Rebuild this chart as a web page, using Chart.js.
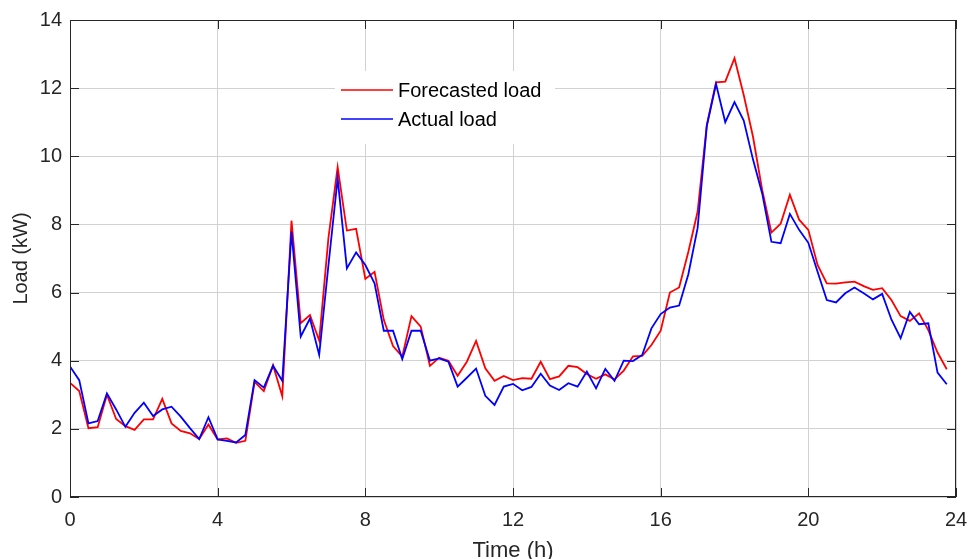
<!DOCTYPE html>
<html>
<head>
<meta charset="utf-8">
<script src="https://cdn.jsdelivr.net/npm/chart.js@4"></script>
<style>
  html, body { margin: 0; padding: 0; background: #fff; }
  #wrap { width: 970px; height: 559px; }
</style>
</head>
<body>
<div id="wrap"><canvas id="loadChart" width="970" height="559"></canvas></div>
<script>
// Pas de temps : 15 minutes, de 0 h a 23,75 h
const heures = Array.from({ length: 96 }, (_, i) => i * 0.25);

// Charge prevue (kW)
const chargePrevue = [
  3.35, 3.11, 2.02, 2.05,  3.00, 2.29, 2.08, 1.97,  2.28, 2.28, 2.88, 2.16,
  1.94, 1.87, 1.70, 2.13,  1.69, 1.72, 1.59, 1.65,  3.38, 3.11, 3.87, 2.96,
  8.11, 5.10, 5.34, 4.59,  7.60, 9.68, 7.82, 7.87,  6.40, 6.61, 5.20, 4.43,
  4.12, 5.31, 5.00, 3.85,  4.09, 4.00, 3.56, 3.97,  4.58, 3.78, 3.41, 3.55,
  3.43, 3.49, 3.47, 3.97,  3.46, 3.54, 3.85, 3.81,  3.61, 3.47, 3.60, 3.45,
  3.71, 4.13, 4.14, 4.46,  4.88, 6.00, 6.15, 7.20,  8.37, 10.92, 12.17, 12.19,
  12.88, 11.80, 10.58, 9.01,  7.76, 8.02, 8.87, 8.14,  7.84, 6.81, 6.27, 6.26,
  6.30, 6.32, 6.19, 6.08,  6.13, 5.78, 5.31, 5.17,  5.39, 4.90, 4.24, 3.75
];

// Charge reelle (kW)
const chargeReelle = [
  3.83, 3.43, 2.16, 2.23,  3.04, 2.57, 2.06, 2.47,  2.77, 2.38, 2.57, 2.65,
  2.36, 2.02, 1.70, 2.34,  1.69, 1.65, 1.60, 1.82,  3.43, 3.21, 3.85, 3.41,
  7.79, 4.71, 5.24, 4.17,  6.80, 9.35, 6.71, 7.18,  6.81, 6.27, 4.88, 4.88,
  4.05, 4.88, 4.88, 4.00,  4.07, 3.97, 3.24, 3.50,  3.77, 2.97, 2.70, 3.24,
  3.32, 3.13, 3.23, 3.62,  3.27, 3.14, 3.34, 3.24,  3.68, 3.19, 3.76, 3.41,
  4.00, 3.99, 4.17, 4.95,  5.37, 5.56, 5.62, 6.54,  7.89, 10.89, 12.12, 11.00,
  11.59, 11.05, 9.91, 8.91,  7.49, 7.45, 8.31, 7.84,  7.46, 6.61, 5.78, 5.71,
  5.98, 6.15, 5.98, 5.80,  5.96, 5.21, 4.66, 5.43,  5.07, 5.10, 3.65, 3.31
];

const ticksX = [0, 4, 8, 12, 16, 20, 24];
const ticksY = [0, 2, 4, 6, 8, 10, 12, 14];
const nomsSeries = ['Forecasted load', 'Actual load'];
const couleurs = ['#ff0000', '#0000ff'];

const police = '"Liberation Sans", Arial, sans-serif';

function enPoints(valeurs) {
  return valeurs.map((v, i) => ({ x: heures[i], y: v }));
}

// Cadre, graduations interieures et legende (style MATLAB)
const cadrePlugin = {
  id: 'cadre',
  afterDraw(chart) {
    const { ctx, chartArea: a, scales } = chart;
    ctx.save();
    ctx.strokeStyle = '#262626';
    ctx.lineWidth = 1;
    ctx.strokeRect(Math.round(a.left) + 0.5, Math.round(a.top) + 0.5,
      Math.round(a.right - a.left) - 1, Math.round(a.bottom - a.top) - 1);

    ctx.beginPath();
    ticksX.forEach(v => {
      const px = Math.round(scales.x.getPixelForValue(v)) + 0.5;
      ctx.moveTo(px, a.bottom); ctx.lineTo(px, a.bottom - 9);
      ctx.moveTo(px, a.top); ctx.lineTo(px, a.top + 9);
    });
    ticksY.forEach(v => {
      const py = Math.round(scales.y.getPixelForValue(v)) + 0.5;
      ctx.moveTo(a.left, py); ctx.lineTo(a.left + 9, py);
      ctx.moveTo(a.right, py); ctx.lineTo(a.right - 9, py);
    });
    ctx.stroke();

    // legende dans le graphique
    ctx.fillStyle = '#ffffff';
    ctx.fillRect(335, 71, 220, 73);
    ctx.font = '20px ' + police;
    ctx.textBaseline = 'middle';
    nomsSeries.forEach((nom, i) => {
      const y = 90 + i * 29;
      ctx.strokeStyle = couleurs[i];
      ctx.lineWidth = 1.5;
      ctx.beginPath();
      ctx.moveTo(341, y); ctx.lineTo(393, y);
      ctx.stroke();
      ctx.fillStyle = '#000000';
      ctx.fillText(nom, 398, y + 1);
    });
    ctx.restore();
  }
};

const ctx = document.getElementById('loadChart').getContext('2d');
const chart = new Chart(ctx, {
  type: 'line',
  data: {
    datasets: [
      {
        label: nomsSeries[0],
        data: enPoints(chargePrevue),
        borderColor: couleurs[0],
        borderWidth: 1.8,
        pointRadius: 0,
        tension: 0,
        order: 1
      },
      {
        label: nomsSeries[1],
        data: enPoints(chargeReelle),
        borderColor: couleurs[1],
        borderWidth: 1.8,
        pointRadius: 0,
        tension: 0,
        order: 0
      }
    ]
  },
  options: {
    responsive: false,
    animation: false,
    layout: { padding: { top: 19, right: 14, left: 0, bottom: 0 } },
    plugins: {
      legend: { display: false },
      tooltip: { enabled: false }
    },
    scales: {
      x: {
        type: 'linear',
        min: 0,
        max: 24,
        afterBuildTicks: s => { s.ticks = ticksX.map(v => ({ value: v })); },
        afterFit: s => { s.height = 62; s.paddingRight = 0; s.paddingLeft = 0; },
        grid: { color: '#d2d2d2', drawTicks: false },
        border: { display: false },
        ticks: { padding: 11, color: '#262626', font: { family: police, size: 20 } },
        title: {
          display: true,
          text: 'Time (h)',
          color: '#262626',
          font: { family: police, size: 22 },
          padding: { top: 0, bottom: -5 }
        }
      },
      y: {
        min: 0,
        max: 14,
        afterBuildTicks: s => { s.ticks = ticksY.map(v => ({ value: v })); },
        afterFit: s => { s.width = 70; },
        grid: { color: '#d2d2d2', drawTicks: false },
        border: { display: false },
        ticks: { padding: 8, color: '#262626', font: { family: police, size: 20 } },
        title: {
          display: true,
          text: 'Load (kW)',
          color: '#262626',
          font: { family: police, size: 20 },
          padding: { top: 9, bottom: 0 }
        }
      }
    }
  },
  plugins: [cadrePlugin]
});
</script>
</body>
</html>
